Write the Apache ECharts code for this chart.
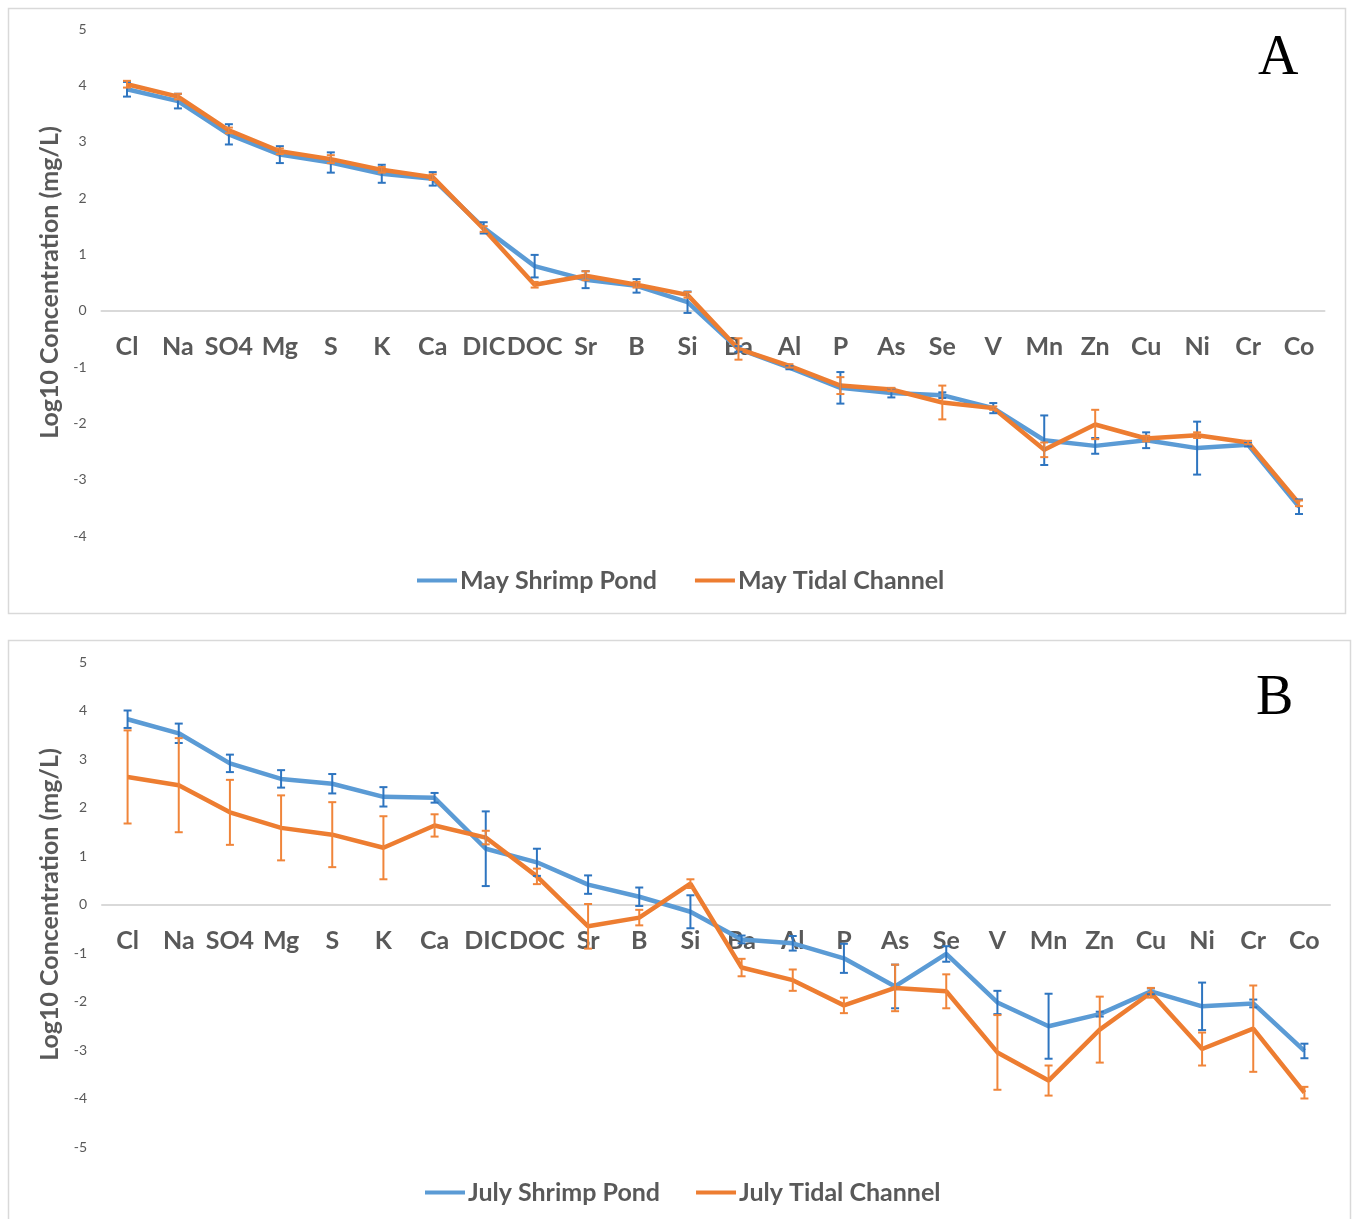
<!DOCTYPE html>
<html>
<head>
<meta charset="utf-8">
<script src="https://cdn.jsdelivr.net/npm/echarts@6/dist/echarts.min.js"></script>
<style>
html,body{margin:0;padding:0;background:#fff;}
#chart{width:1352px;height:1219px;}
</style>
</head>
<body>
<div id="chart"></div>
<script>
const categories = ['Cl','Na','SO4','Mg','S','K','Ca','DIC','DOC','Sr','B','Si','Ba','Al','P','As','Se','V','Mn','Zn','Cu','Ni','Cr','Co'];
const yTicksA = {min: -4, max: 5, interval: 1};
const yTicksB = {min: -5, max: 5, interval: 1};

const mayPond     = [3.93,3.72,3.13,2.77,2.63,2.43,2.34,1.47,0.79,0.55,0.44,0.15,-0.68,-1.01,-1.37,-1.46,-1.50,-1.73,-2.30,-2.40,-2.30,-2.44,-2.38,-3.48];
const mayPondErr  = [0.13,0.13,0.18,0.15,0.18,0.16,0.12,0.10,0.20,0.15,0.12,0.19,0.05,0.03,0.28,0.08,0.05,0.09,0.44,0.14,0.14,0.47,0.03,0.13];
const mayTidal    = [4.02,3.80,3.20,2.83,2.69,2.50,2.37,1.45,0.46,0.62,0.46,0.28,-0.68,-0.98,-1.33,-1.40,-1.63,-1.73,-2.47,-2.02,-2.27,-2.21,-2.34,-3.42];
const mayTidalErr = [0.06,0.05,0.05,0.05,0.07,0.05,0.05,0.05,0.05,0.08,0.05,0.05,0.19,0.03,0.15,0.03,0.30,0.03,0.13,0.26,0.05,0.05,0.03,0.05];

const julyPond     = [3.82,3.53,2.91,2.59,2.49,2.22,2.20,1.15,0.87,0.41,0.16,-0.15,-0.72,-0.80,-1.11,-1.69,-1.02,-2.02,-2.51,-2.26,-1.79,-2.10,-2.04,-3.02];
const julyPondErr  = [0.18,0.20,0.18,0.18,0.20,0.20,0.10,0.77,0.28,0.19,0.19,0.34,0.08,0.15,0.30,0.45,0.16,0.24,0.67,0.05,0.06,0.49,0.08,0.15];
const julyTidal    = [2.63,2.46,1.90,1.58,1.44,1.17,1.63,1.38,0.58,-0.45,-0.27,0.43,-1.30,-1.56,-2.08,-1.72,-1.79,-3.05,-3.63,-2.58,-1.82,-2.98,-2.56,-3.88];
const julyTidalErr = [0.96,0.97,0.67,0.67,0.67,0.65,0.23,0.14,0.16,0.46,0.16,0.09,0.18,0.22,0.16,0.48,0.35,0.77,0.31,0.68,0.10,0.34,0.89,0.12];

const BLUE = '#5B9BD5', BLUE_ERR = '#2E75C0';
const ORANGE = '#ED7D31', ORANGE_ERR = '#F0853A';
const GRAY = '#595959';
const FONT = 'Lato, "Open Sans", sans-serif';

const H = 1219, W = 1352;
const gridA = {left:101.5, right:W-1324.5, top:29, bottom:H-536};
const gridB = {left:102, right:W-1330, top:662, bottom:H-1147};

// distance from grid bottom to the zero line, from the axis range
function zeroOffset(g, t){
  const h = H - g.top - g.bottom;
  return h * (0 - t.min) / (t.max - t.min);
}

function errData(vals, errs){ return vals.map((v,i)=>[i, v, errs[i]]); }
function errRender(color){
  return function(params, api){
    const i = api.value(0), v = api.value(1), e = api.value(2);
    const t = api.coord([i, v + e]);
    const b = api.coord([i, v - e]);
    const hw = 4;
    const st = {stroke: color, lineWidth: 2};
    return {type:'group', children:[
      {type:'line', shape:{x1:t[0], y1:t[1], x2:b[0], y2:b[1]}, style:st},
      {type:'line', shape:{x1:t[0]-hw, y1:t[1], x2:t[0]+hw, y2:t[1]}, style:st},
      {type:'line', shape:{x1:b[0]-hw, y1:b[1], x2:b[0]+hw, y2:b[1]}, style:st}
    ]};
  };
}

function xAxis(gi, g, t){
  return {
    type:'category', gridIndex:gi, data:categories, boundaryGap:true,
    offset: -zeroOffset(g, t),
    axisLine:{show:true, onZero:false, lineStyle:{color:'#D9D9D9', width:2}},
    axisTick:{show:false},
    axisLabel:{color:GRAY, fontSize:25, fontWeight:'bold', fontFamily:FONT, margin:24, interval:0},
    splitLine:{show:false}
  };
}
function yAxis(gi, t){
  return {
    type:'value', gridIndex:gi, min:t.min, max:t.max, interval:t.interval,
    axisLine:{show:false}, axisTick:{show:false}, splitLine:{show:false},
    axisLabel:{color:GRAY, fontSize:14, fontFamily:FONT, margin:15},
    name:'Log10 Concentration (mg/L)', nameLocation:'middle', nameGap:37,
    nameTextStyle:{color:GRAY, fontSize:25, fontWeight:'bold', fontFamily:FONT}
  };
}
function lineSeries(name, gi, data, color){
  return {name:name, type:'line', xAxisIndex:gi, yAxisIndex:gi, data:data,
    symbol:'none', lineStyle:{color:color, width:4.5}, itemStyle:{color:color}, z:2};
}
function errSeries(name, gi, vals, errs, color){
  return {name:name, type:'custom', xAxisIndex:gi, yAxisIndex:gi,
    data:errData(vals, errs), renderItem:errRender(color), z:3,
    encode:{x:0, y:1}};
}

const chart = echarts.init(document.getElementById('chart'), null, {renderer:'canvas'});
chart.setOption({
  animation:false,
  backgroundColor:'#fff',
  grid:[gridA, gridB],
  xAxis:[xAxis(0, gridA, yTicksA), xAxis(1, gridB, yTicksB)],
  yAxis:[yAxis(0, yTicksA), yAxis(1, yTicksB)],
  legend:[
    {data:['May Shrimp Pond','May Tidal Channel'], left:412, top:563, icon:'rect', itemWidth:40, itemHeight:4, itemGap:38,
     textStyle:{color:GRAY, fontSize:25, fontWeight:'bold', fontFamily:FONT, padding:[0,0,0,-2]}},
    {data:['July Shrimp Pond','July Tidal Channel'], left:420, top:1175, icon:'rect', itemWidth:40, itemHeight:4, itemGap:36,
     textStyle:{color:GRAY, fontSize:25, fontWeight:'bold', fontFamily:FONT, padding:[0,0,0,-2]}}
  ],
  graphic:[
    {type:'rect', shape:{x:8.5, y:8.5, width:1337, height:605}, style:{fill:'none', stroke:'#D9D9D9', lineWidth:1.5}, silent:true},
    {type:'rect', shape:{x:8.5, y:640.5, width:1342, height:600}, style:{fill:'none', stroke:'#D9D9D9', lineWidth:1.5}, silent:true},
    {type:'text', left:1258, top:31, style:{text:'A', font:'56px "Liberation Serif", "Times New Roman", serif', fill:'#000'}},
    {type:'text', left:1256, top:671, style:{text:'B', font:'56px "Liberation Serif", "Times New Roman", serif', fill:'#000'}}
  ],
  series:[
    lineSeries('May Shrimp Pond', 0, mayPond, BLUE),
    errSeries('mayPondErr', 0, mayPond, mayPondErr, BLUE_ERR),
    lineSeries('May Tidal Channel', 0, mayTidal, ORANGE),
    errSeries('mayTidalErr', 0, mayTidal, mayTidalErr, ORANGE_ERR),
    lineSeries('July Shrimp Pond', 1, julyPond, BLUE),
    errSeries('julyPondErr', 1, julyPond, julyPondErr, BLUE_ERR),
    lineSeries('July Tidal Channel', 1, julyTidal, ORANGE),
    errSeries('julyTidalErr', 1, julyTidal, julyTidalErr, ORANGE_ERR)
  ]
});
</script>
</body>
</html>
